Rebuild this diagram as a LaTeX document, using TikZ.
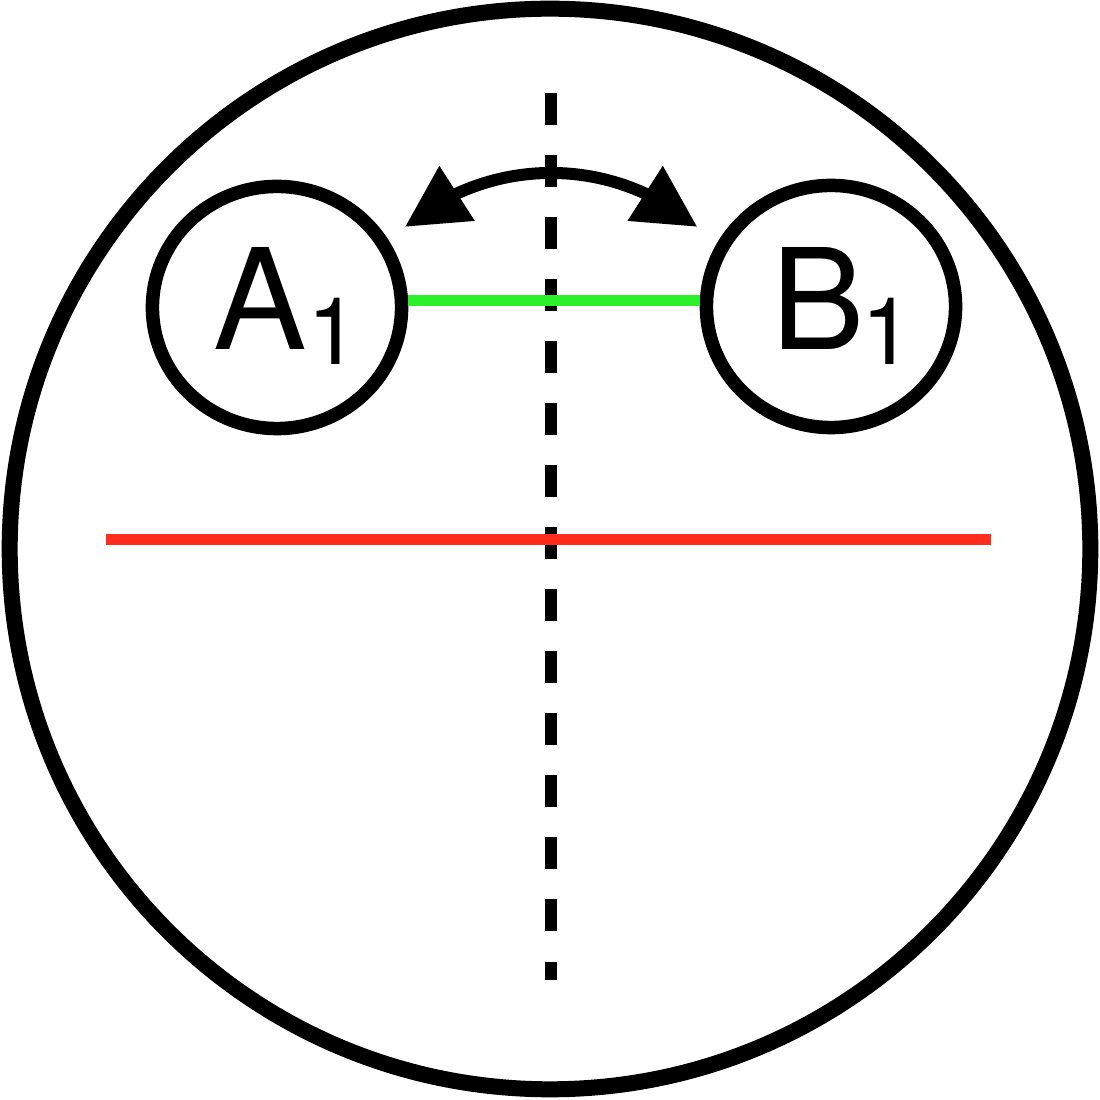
\documentclass[tikz,border=0pt]{standalone}
\usepackage{fontspec}
\setmainfont{TeX Gyre Heros}
\usetikzlibrary{shapes.geometric,arrows.meta,bending}
\definecolor{lgreen}{RGB}{44,240,44}
\definecolor{lred}{RGB}{255,45,30}
\tikzset{
  outer/.style={draw=black, line width=0.16cm},
  ball/.style={draw=black, line width=0.135cm, ellipse, inner sep=0pt, minimum width=2.49cm, minimum height=2.42cm},
  lbl/.style={anchor=base west, inner sep=0pt, font=\fontsize{39.8pt}{40pt}\selectfont},
  axisline/.style={draw=black, line width=0.125cm, dash pattern=on 0.32cm off 0.30cm},
  greenline/.style={draw=lgreen, line width=0.11cm},
  redline/.style={draw=lred, line width=0.11cm},
  swing/.style={draw=black, line width=0.12cm, {Triangle[length=0.62cm,width=0.62cm,flex]}-{Triangle[length=0.62cm,width=0.62cm,flex]}}
}
\newcommand{\subone}[1]{\raisebox{-0.15cm}{\fontsize{26.6pt}{27pt}\selectfont #1}}
\begin{document}
\begin{tikzpicture}[x=0.01cm,y=0.01cm]
\useasboundingbox (0,0) rectangle (1100,1100);
% outer circle
\node[outer, circle, inner sep=0pt, minimum size=10.80cm] (big) at (550,551) {};
% dashed axis
\coordinate (axT) at (551,1007);
\coordinate (axB) at (551,120);
\draw[axisline] (axT) -- (axB);
% red line
\coordinate (rL) at (106,560);
\coordinate (rR) at (991,560);
\draw[redline] (rL) -- (rR);
% balls
\node[ball] (A) at (277,792.5) {};
\node[ball] (B) at (831,793.5) {};
% labels
\node[lbl] (Atext) at (213,750) {A\subone{1}};
\node[lbl] (Btext) at (771,750) {B\kern-0.04cm\subone{1}};
% green line
\coordinate (g) at (551,799);
\draw[greenline] (A.east |- g) -- (B.west |- g);
% swing arrow
\coordinate (arcL) at (404.9,873.1);
\draw[swing] (arcL) arc[start angle=130.5, end angle=49.5, radius=2.25cm];
\end{tikzpicture}
\end{document}
